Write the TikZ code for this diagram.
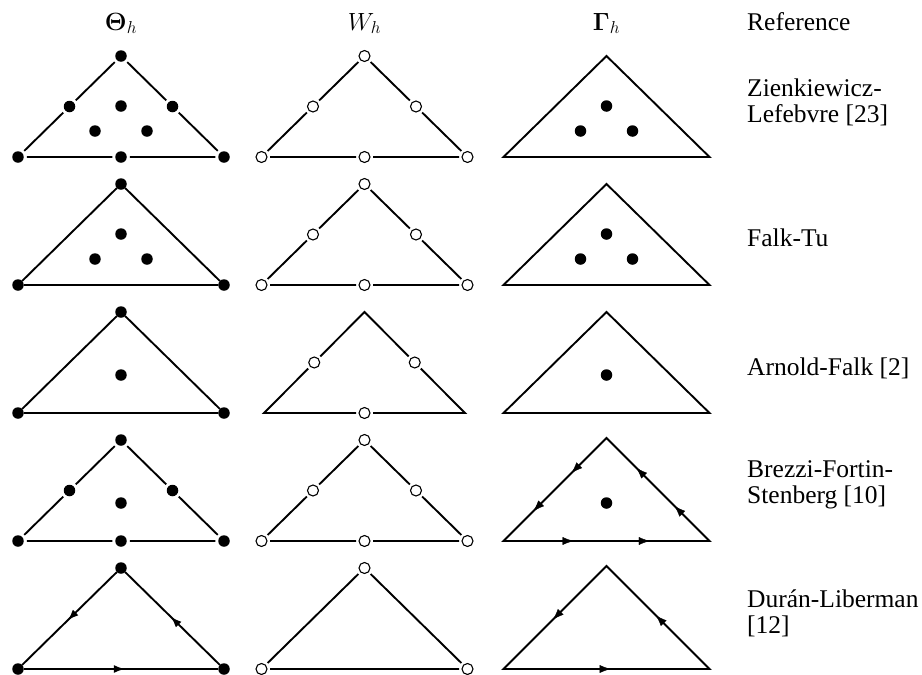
\documentclass[tikz,border=0pt]{standalone}
\usepackage{amsmath}
\usepackage{bm}
\usepackage{fontspec}
\setmainfont{Liberation Serif}
\usetikzlibrary{arrows.meta,decorations.markings}
\tikzset{
  edge/.style={line width=1.9pt},
  fdot/.style={circle, fill=black, inner sep=0pt, minimum size=11.5pt, outer sep=0pt},
  fdotg/.style={fdot, outer sep=3pt},
  odot/.style={circle, draw=black, fill=white, line width=1.1pt, inner sep=0pt, minimum size=11pt, outer sep=3pt},
  arrone/.style={postaction={decorate}, decoration={markings, mark=at position 0.52 with {\arrow{Latex[length=11pt,width=8pt]}}}},
  arrtwo/.style={postaction={decorate}, decoration={markings, mark=at position 0.34 with {\arrow{Latex[length=11pt,width=8pt]}}, mark=at position 0.71 with {\arrow{Latex[length=11pt,width=8pt]}}}},
  hdr/.style={anchor=base, inner sep=0pt, font=\fontsize{25.5}{26}\selectfont},
  lbl/.style={anchor=west, align=left, inner sep=0pt, font=\fontsize{25.5}{26}\selectfont},
}
\begin{document}
\begin{tikzpicture}[x=1pt,y=-1pt]
\useasboundingbox (0,0) rectangle (922,675);

% headers
\node[hdr] (hT) at (121,30) {$\bm{\Theta}_h$};
\node[hdr] (hW) at (364.5,30) {$W_h$};
\node[hdr] (hG) at (606.5,30) {$\bm{\Gamma}_h$};
\node[hdr, anchor=base west] (hR) at (747,30) {Reference};

% ---------------- Row 1 ----------------
\node[fdotg] (T1a) at (121,56) {};
\node[fdotg] (T1l) at (18,157) {};
\node[fdotg] (T1r) at (224,157) {};
\node[fdotg] (T1ml) at (69.5,106.5) {};
\node[fdotg] (T1mr) at (172.5,106.5) {};
\node[fdotg] (T1mb) at (121,157) {};
\node[fdot] (T1c) at (121,106) {};
\node[fdot] (T1d) at (95,131) {};
\node[fdot] (T1e) at (147,131) {};
\draw[edge] (T1a) -- (T1ml) -- (T1l) -- (T1mb) -- (T1r) -- (T1mr) -- (T1a);

\node[odot] (W1a) at (364.5,56) {};
\node[odot] (W1l) at (261.5,157) {};
\node[odot] (W1r) at (467.5,157) {};
\node[odot] (W1ml) at (313,106.5) {};
\node[odot] (W1mr) at (416,106.5) {};
\node[odot] (W1mb) at (364.5,157) {};
\draw[edge] (W1a) -- (W1ml) -- (W1l) -- (W1mb) -- (W1r) -- (W1mr) -- (W1a);

\coordinate (G1a) at (606.5,56);
\coordinate (G1l) at (503.5,157);
\coordinate (G1r) at (709.5,157);
\node[fdot] (G1c) at (606.5,106) {};
\node[fdot] (G1d) at (580.5,131) {};
\node[fdot] (G1e) at (632.5,131) {};
\draw[edge, line join=miter] (G1a) -- (G1l) -- (G1r) -- cycle;

\node[lbl] (L1) at (747,102) {Zienkiewicz-\\Lefebvre [23]};

% ---------------- Row 2 ----------------
\node[fdot] (T2a) at (121,184) {};
\node[fdot] (T2l) at (18,285) {};
\node[fdot] (T2r) at (224,285) {};
\node[fdot] (T2c) at (121,234) {};
\node[fdot] (T2d) at (95,259) {};
\node[fdot] (T2e) at (147,259) {};
\draw[edge] (T2a) -- (T2l) -- (T2r) -- (T2a);

\node[odot] (W2a) at (364.5,184) {};
\node[odot] (W2l) at (261.5,285) {};
\node[odot] (W2r) at (467.5,285) {};
\node[odot] (W2ml) at (313,234.5) {};
\node[odot] (W2mr) at (416,234.5) {};
\node[odot] (W2mb) at (364.5,285) {};
\draw[edge] (W2a) -- (W2ml) -- (W2l) -- (W2mb) -- (W2r) -- (W2mr) -- (W2a);

\coordinate (G2a) at (606.5,184);
\coordinate (G2l) at (503.5,285);
\coordinate (G2r) at (709.5,285);
\node[fdot] (G2c) at (606.5,234) {};
\node[fdot] (G2d) at (580.5,259) {};
\node[fdot] (G2e) at (632.5,259) {};
\draw[edge, line join=miter] (G2a) -- (G2l) -- (G2r) -- cycle;

\node[lbl] (L2) at (747,238) {Falk-Tu};

% ---------------- Row 3 ----------------
\node[fdot] (T3a) at (121,312) {};
\node[fdot] (T3l) at (18,413) {};
\node[fdot] (T3r) at (224,413) {};
\node[fdot] (T3c) at (121,375) {};
\draw[edge] (T3a) -- (T3l) -- (T3r) -- (T3a);

\coordinate (W3a) at (364.5,312);
\coordinate (W3l) at (264,413);
\coordinate (W3r) at (465,413);
\node[odot] (W3ml) at (314.25,362.5) {};
\node[odot] (W3mr) at (414.75,362.5) {};
\node[odot] (W3mb) at (364.5,413) {};
\draw[edge] (W3mb) -- (W3l) -- (W3ml);
\draw[edge] (W3ml) -- (W3a) -- (W3mr);
\draw[edge] (W3mr) -- (W3r) -- (W3mb);

\coordinate (G3a) at (606.5,312);
\coordinate (G3l) at (503.5,413);
\coordinate (G3r) at (709.5,413);
\node[fdot] (G3c) at (606.5,375) {};
\draw[edge, line join=miter] (G3a) -- (G3l) -- (G3r) -- cycle;

\node[lbl] (L3) at (747,368) {Arnold-Falk [2]};

% ---------------- Row 4 ----------------
\node[fdotg] (T4a) at (121,440) {};
\node[fdotg] (T4l) at (18,541) {};
\node[fdotg] (T4r) at (224,541) {};
\node[fdotg] (T4ml) at (69.5,490.5) {};
\node[fdotg] (T4mr) at (172.5,490.5) {};
\node[fdotg] (T4mb) at (121,541) {};
\node[fdot] (T4c) at (121,503) {};
\draw[edge] (T4a) -- (T4ml) -- (T4l) -- (T4mb) -- (T4r) -- (T4mr) -- (T4a);

\node[odot] (W4a) at (364.5,440) {};
\node[odot] (W4l) at (261.5,541) {};
\node[odot] (W4r) at (467.5,541) {};
\node[odot] (W4ml) at (313,490.5) {};
\node[odot] (W4mr) at (416,490.5) {};
\node[odot] (W4mb) at (364.5,541) {};
\draw[edge] (W4a) -- (W4ml) -- (W4l) -- (W4mb) -- (W4r) -- (W4mr) -- (W4a);

\coordinate (G4a) at (606.5,438);
\coordinate (G4l) at (503.5,541);
\coordinate (G4r) at (709.5,541);
\node[fdot] (G4c) at (606.5,503) {};
\draw[edge, line join=miter] (G4a) -- (G4l) -- (G4r) -- cycle;
\path[arrtwo] (G4l) -- (G4r);
\path[arrtwo] (G4r) -- (G4a);
\path[arrtwo] (G4a) -- (G4l);

\node[lbl] (L4) at (747,485) {Brezzi-Fortin-\\Stenberg [10]};

% ---------------- Row 5 ----------------
\node[fdot] (T5a) at (121,568) {};
\node[fdot] (T5l) at (18,669) {};
\node[fdot] (T5r) at (224,669) {};
\draw[edge, arrone] (T5l) -- (T5r);
\draw[edge, arrone] (T5r) -- (T5a);
\draw[edge, arrone] (T5a) -- (T5l);

\node[odot] (W5a) at (364.5,568) {};
\node[odot] (W5l) at (261.5,669) {};
\node[odot] (W5r) at (467.5,669) {};
\draw[edge] (W5a) -- (W5l) -- (W5r) -- (W5a);

\coordinate (G5a) at (606.5,566);
\coordinate (G5l) at (503.5,669);
\coordinate (G5r) at (709.5,669);
\draw[edge, line join=miter] (G5a) -- (G5l) -- (G5r) -- cycle;
\path[arrone] (G5l) -- (G5r);
\path[arrone] (G5r) -- (G5a);
\path[arrone] (G5a) -- (G5l);

\node[lbl] (L5) at (747,613) {Durán-Liberman\\{}[12]};
\end{tikzpicture}
\end{document}
